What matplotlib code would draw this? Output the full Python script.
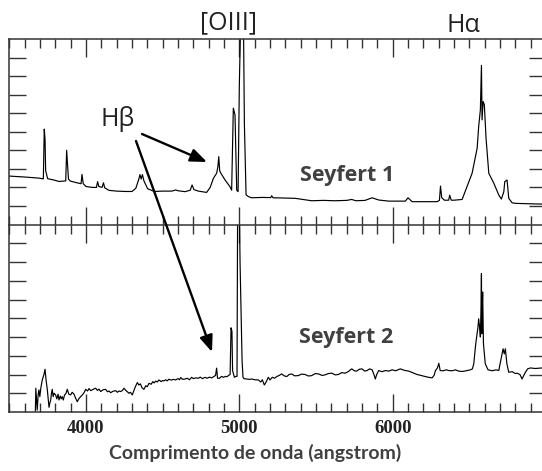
import matplotlib
matplotlib.use("Agg")
import matplotlib.pyplot as plt
from matplotlib.patches import FancyArrowPatch
from matplotlib.ticker import MultipleLocator

# Seyfert 1 spectrum (wavelength in angstrom, relative flux)
wl_sy1 = [3500, 3600, 3693, 3722, 3728, 3733, 3737, 3750, 3790, 3824, 3868, 3874, 3880, 3886,
          3898, 3940, 3968, 3974, 3982, 4000, 4040, 4068, 4076, 4084, 4105, 4114, 4122, 4150,
          4200, 4259, 4300, 4325, 4345, 4352, 4360, 4368, 4378, 4402, 4446, 4500, 4560, 4585,
          4600, 4646, 4680, 4692, 4704, 4733, 4787, 4810, 4831, 4852, 4860, 4866, 4872, 4880,
          4907, 4939, 4950, 4961, 4972, 4983, 4992, 5000, 5011, 5026, 5033, 5044, 5060, 5081,
          5150, 5205, 5211, 5220, 5280, 5365, 5472, 5550, 5624, 5700, 5733, 5760, 5820, 5866,
          5909, 5975, 6083, 6100, 6127, 6200, 6290, 6305, 6312, 6320, 6337, 6365, 6372, 6382,
          6400, 6453, 6518, 6551, 6561, 6572, 6579, 6583, 6590, 6598, 6609, 6627, 6660, 6692,
          6709, 6725, 6731, 6746, 6757, 6779, 6800, 6880, 6975]
fx_sy1 = [2.61, 2.56, 2.50, 2.46, 5.14, 4.60, 2.90, 2.47, 2.40, 2.32, 2.35, 4.00, 3.20, 2.45,
          2.34, 2.25, 2.20, 2.70, 2.20, 2.05, 2.00, 2.00, 2.31, 2.05, 2.00, 2.25, 1.98, 1.84,
          1.80, 1.78, 1.78, 1.95, 2.45, 2.69, 2.45, 2.69, 2.35, 1.93, 1.78, 1.80, 1.80, 1.86,
          1.82, 1.77, 1.85, 2.13, 1.88, 1.80, 1.73, 2.00, 2.49, 2.76, 3.10, 3.66, 2.90, 2.76,
          2.40, 2.04, 1.85, 6.27, 5.90, 1.85, 1.77, 7.44, 12.0, 12.0, 5.46, 1.60, 1.50, 1.44,
          1.46, 1.45, 1.55, 1.44, 1.43, 1.41, 1.28, 1.30, 1.28, 1.30, 1.35, 1.28, 1.30, 1.44,
          1.32, 1.26, 1.26, 1.44, 1.23, 1.23, 1.23, 1.30, 2.07, 1.45, 1.31, 1.31, 1.58, 1.31,
          1.31, 1.35, 2.76, 4.11, 5.28, 6.18, 8.58, 5.64, 6.63, 6.45, 4.65, 2.76, 2.22, 1.59,
          1.37, 1.77, 2.31, 2.40, 1.41, 1.17, 1.14, 1.12, 1.10]

# Seyfert 2 spectrum
wl_sy2 = [3670, 3673, 3678, 3682, 3688, 3693, 3699, 3706, 3715, 3726, 3733, 3740, 3748, 3759,
          3765, 3770, 3775, 3780, 3786, 3792, 3802, 3810, 3818, 3824, 3832, 3838, 3845, 3852,
          3860, 3870, 3878, 3888, 3900, 3910, 3922, 3932, 3943, 3953, 3965, 3975, 3985, 3992,
          3998, 4010, 4020, 4031, 4045, 4063, 4075, 4085, 4096, 4110, 4128, 4140, 4150, 4161,
          4175, 4194, 4205, 4215, 4226, 4238, 4248, 4260, 4270, 4280, 4290, 4302, 4315, 4325,
          4335, 4345, 4355, 4365, 4378, 4390, 4400, 4411, 4425, 4436, 4444, 4455, 4465, 4476,
          4490, 4500, 4509, 4520, 4530, 4541, 4555, 4570, 4585, 4600, 4610, 4618, 4630, 4646,
          4660, 4675, 4689, 4700, 4715, 4733, 4745, 4760, 4776, 4790, 4805, 4820, 4835, 4845,
          4852, 4858, 4870, 4885, 4896, 4910, 4920, 4928, 4940, 4946, 4952, 4956, 4968, 4978,
          4985, 4989, 5000, 5005, 5018, 5024, 5030, 5048, 5065, 5081, 5100, 5124, 5140, 5150,
          5163, 5175, 5189, 5200, 5215, 5230, 5244, 5260, 5276, 5292, 5309, 5325, 5342, 5360,
          5385, 5405, 5429, 5450, 5472, 5495, 5516, 5540, 5559, 5580, 5603, 5625, 5646, 5668,
          5690, 5710, 5733, 5750, 5765, 5782, 5800, 5818, 5833, 5850, 5866, 5878, 5887, 5896,
          5909, 5930, 5953, 5975, 5996, 6020, 6050, 6078, 6105, 6130, 6159, 6185, 6213, 6235,
          6257, 6270, 6279, 6292, 6301, 6310, 6330, 6350, 6366, 6390, 6409, 6430, 6453, 6480,
          6507, 6520, 6529, 6540, 6546, 6556, 6561, 6566, 6572, 6576, 6579, 6581, 6584, 6587,
          6592, 6604, 6622, 6650, 6675, 6692, 6709, 6720, 6728, 6735, 6745, 6757, 6780, 6800,
          6811, 6830, 6844, 6855, 6866, 6880, 6898, 6930, 6975]
fx_sy2 = [0.05, 1.27, 0.60, 0.10, 0.90, 1.18, 0.82, 1.30, 1.71, 2.00, 2.28, 1.70, 1.18, 0.25,
          0.50, 0.64, 1.00, 1.21, 0.82, 1.00, 0.91, 0.70, 0.95, 0.64, 0.85, 0.70, 0.82, 0.64,
          0.90, 1.00, 1.21, 0.95, 0.91, 1.05, 0.95, 0.75, 0.55, 0.70, 0.82, 0.90, 1.00, 1.10,
          1.21, 1.12, 1.25, 1.14, 1.20, 1.27, 1.15, 1.22, 1.09, 1.18, 1.21, 1.08, 1.12, 1.03,
          1.10, 1.14, 1.05, 1.12, 1.09, 1.15, 1.27, 1.15, 1.08, 1.00, 1.05, 0.91, 1.20, 1.40,
          1.57, 1.44, 1.50, 1.30, 1.21, 1.40, 1.35, 1.53, 1.48, 1.62, 1.55, 1.65, 1.60, 1.71,
          1.62, 1.68, 1.66, 1.72, 1.66, 1.75, 1.70, 1.74, 1.71, 1.78, 1.72, 1.84, 1.74, 1.76,
          1.80, 1.72, 1.85, 1.78, 1.82, 1.80, 1.86, 1.78, 1.85, 1.80, 1.86, 1.82, 1.90, 1.95,
          2.34, 1.80, 1.80, 1.90, 1.85, 1.90, 1.88, 1.94, 2.00, 4.49, 4.30, 2.21, 1.85, 1.90,
          1.90, 11.0, 11.0, 7.90, 2.74, 1.85, 1.78, 1.76, 1.74, 1.76, 1.72, 1.71, 1.60, 1.72,
          1.44, 1.60, 1.85, 1.71, 1.85, 1.80, 1.89, 1.95, 2.03, 1.93, 1.89, 2.00, 2.03, 1.93,
          1.94, 2.02, 2.00, 1.92, 1.94, 2.05, 2.03, 1.95, 1.98, 2.05, 2.07, 1.98, 2.00, 2.10,
          2.07, 2.15, 2.30, 2.20, 2.18, 2.28, 2.30, 2.18, 2.21, 2.30, 2.25, 2.00, 1.76, 2.00,
          2.21, 2.15, 2.21, 2.18, 2.25, 2.20, 2.30, 2.22, 2.18, 2.10, 2.00, 1.95, 1.89, 1.85,
          1.82, 1.95, 2.21, 2.35, 2.60, 2.21, 2.20, 2.25, 2.21, 2.20, 2.25, 2.18, 2.16, 2.20,
          2.25, 2.30, 2.57, 3.50, 3.90, 4.50, 4.97, 4.60, 4.00, 5.50, 7.38, 4.17, 5.50, 6.40,
          3.64, 2.57, 2.25, 2.20, 2.25, 2.21, 2.93, 3.37, 3.10, 3.37, 2.57, 2.12, 2.15, 2.05,
          2.07, 2.00, 1.76, 1.95, 2.12, 2.30, 2.35, 2.32, 2.35]

xticks = [4000, 5000, 6000]
xtick_labels = ["4000", "5000", "6000"]

W, H = 542, 471
SANS = ["Open Sans", "DejaVu Sans"]
SPINE = "#333333"
TXT = "#404040"

fig = plt.figure(figsize=(W / 100, H / 100), dpi=100)
fig.patch.set_facecolor("white")

def px(x, y):
    return x / W, 1 - y / H

left = 9.3 / W; width = (546 - 9.3) / W
ax1 = fig.add_axes([left, 1 - 224.5 / H, width, (224.5 - 39) / H])
ax2 = fig.add_axes([left, 1 - 412 / H, width, (412 - 224.5) / H])

for ax in (ax1, ax2):
    ax.set_xlim(3500, 7000)
    ax.set_ylim(0, 10)
    ax.xaxis.set_major_locator(MultipleLocator(1000))
    ax.xaxis.set_minor_locator(MultipleLocator(100))
    ax.set_yticks(range(1, 10))
    ax.tick_params(axis="x", which="major", direction="in", top=True, bottom=True,
                   length=12.8, width=1.0, color=SPINE)
    ax.tick_params(axis="x", which="minor", direction="in", top=True, bottom=True,
                   length=6.6, width=1.0, color=SPINE)
    ax.tick_params(axis="y", direction="in", left=True, right=True, length=12,
                   width=1.0, color=SPINE, labelleft=False)
    for s in ax.spines.values():
        s.set_color(SPINE)
        s.set_linewidth(1.1)

ax1.spines["bottom"].set_visible(False)
ax1.tick_params(axis="x", labelbottom=False)
ax2.tick_params(axis="x", which="major", pad=6)
ax2.set_xticks(xticks)
ax2.set_xticklabels(xtick_labels, fontfamily="Liberation Serif", fontweight="bold",
                    fontsize=13.5, color="#222222")

ax1.plot(wl_sy1, fx_sy1, color="black", lw=0.85)
ax2.plot(wl_sy2, fx_sy2, color="black", lw=0.85)

# labels
fig.text(*px(229, 29.5), "[OIII]", family=SANS, fontsize=18, color="#222222",
         ha="center", va="baseline")
fig.text(*px(463, 31.5), "Hα", family=SANS, fontsize=18, color="#222222",
         ha="center", va="baseline")
fig.text(*px(118, 125.5), "Hβ", family=SANS, fontsize=18, color="#222222",
         ha="center", va="baseline")
fig.text(*px(347, 180.5), "Seyfert 1", family=SANS, fontsize=15.5, fontweight="bold",
         color=TXT, ha="center", va="baseline")
fig.text(*px(346, 343), "Seyfert 2", family=SANS, fontsize=15.5, fontweight="bold",
         color=TXT, ha="center", va="baseline")
fig.text(*px(255, 459), "Comprimento de onda (angstrom)", family=["Lato", "DejaVu Sans"],
         fontsize=14, fontweight="bold", color=TXT, ha="center", va="baseline")

# arrows from the H-beta label
for (x0, y0), (x1, y1) in [((142, 134), (207, 162)), ((136, 141), (212, 352))]:
    arr = FancyArrowPatch(px(x0, y0), px(x1, y1), transform=fig.transFigure,
                          arrowstyle="-|>,head_length=0.55,head_width=0.22",
                          mutation_scale=18, color="black", lw=1.7,
                          shrinkA=0, shrinkB=0)
    fig.add_artist(arr)

fig.savefig("out.png", dpi=100, facecolor="white")
